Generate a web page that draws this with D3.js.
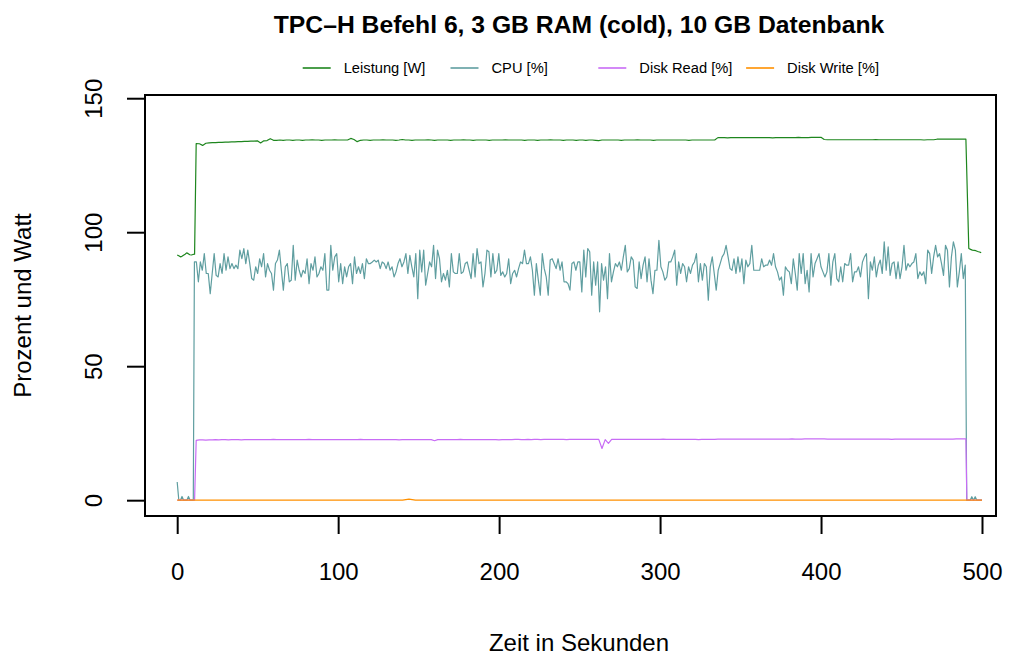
<!DOCTYPE html>
<html>
<head>
<meta charset="utf-8">
<script src="https://cdn.jsdelivr.net/npm/d3@7"></script>
<style>
  body { margin: 0; background: #fff; }
  svg { display: block; font-family: "Liberation Sans", Arial, Helvetica, sans-serif; }
</style>
</head>
<body>
<div class="chart"></div>
<script>
// series names + axis ticks
var seriesNames = ["Leistung [W]", "CPU [%]", "Disk Read [%]", "Disk Write [%]"];
var seriesColors = ["#1E861E", "#5F9EA0", "#C86CF5", "#FF9000"];
var xTicks = [0, 100, 200, 300, 400, 500];
var yTicks = [0, 50, 100, 150];

// Leistung [W] - idle before query, during query (2 s samples), idle after
var powerIdleStart = [91.5, 91.2, 90.8, 91.0, 91.4, 91.8, 92.3, 92.0, 91.6, 91.5, 91.7, 91.8];
var powerLoad = [
  133.1, 133.0, 132.4, 133.2, 133.3, 133.4, 133.4, 133.5, 133.5, 133.6,
  133.6, 133.7, 133.7, 133.8, 133.8, 133.9, 133.9, 134.0, 134.0, 134.1,
  133.3, 134.1, 134.2, 134.9, 134.3, 134.3, 134.4, 134.3, 134.4, 134.4,
  134.3, 134.4, 134.4, 134.3, 134.4, 134.4, 134.5, 134.4, 134.4, 134.3,
  134.4, 134.4, 134.4, 134.5, 134.4, 134.4, 134.4, 134.4, 135.0, 134.6,
  133.8, 134.3, 134.4, 134.4, 134.3, 134.4, 134.4, 134.4, 134.5, 134.4,
  134.4, 134.4, 134.3, 134.4, 134.6, 134.4, 134.4, 134.3, 134.4, 134.4,
  134.4, 134.4, 134.5, 134.4, 134.3, 134.4, 134.4, 134.4, 134.4, 134.3,
  134.4, 134.4, 134.4, 134.5, 134.4, 134.4, 134.3, 134.4, 134.4, 134.4,
  134.4, 134.3, 134.4, 134.4, 134.4, 134.4, 134.5, 134.4, 134.4, 134.4,
  134.4, 134.4, 134.3, 134.4, 134.4, 134.4, 134.3, 134.4, 134.4, 134.4,
  134.5, 134.4, 134.4, 134.4, 134.3, 134.4, 134.4, 134.4, 134.3, 134.4,
  134.4, 134.3, 134.4, 134.4, 134.3, 134.2, 134.4, 134.4, 134.4, 134.4,
  134.4, 134.4, 134.3, 134.4, 134.4, 134.4, 134.4, 134.5, 134.4, 134.4,
  134.4, 134.4, 134.3, 134.4, 134.4, 134.4, 134.4, 134.4, 134.4, 134.4,
  134.4, 134.4, 134.4, 134.3, 134.4, 134.4, 134.4, 134.4, 134.4, 134.4,
  134.4, 134.4, 135.3, 135.3, 135.3, 135.2, 135.3, 135.3, 135.3, 135.3,
  135.3, 135.3, 135.3, 135.3, 135.3, 135.3, 135.3, 135.3, 135.3, 135.2,
  135.3, 135.3, 135.3, 135.3, 135.3, 135.3, 135.3, 135.4, 135.3, 135.3,
  135.3, 135.4, 135.4, 135.4, 135.4, 134.6, 134.5, 134.5, 134.5, 134.5,
  134.5, 134.5, 134.5, 134.5, 134.5, 134.5, 134.5, 134.5, 134.5, 134.5,
  134.5, 134.6, 134.5, 134.5, 134.5, 134.5, 134.5, 134.5, 134.5, 134.5,
  134.5, 134.5, 134.5, 134.5, 134.5, 134.5, 134.4, 134.5, 134.5, 134.5,
  134.7, 134.7, 134.7, 134.7, 134.7, 134.7, 134.7, 134.7, 134.7, 134.7
];
var powerIdleEnd = [93.9, 93.6, 93.3, 93.2, 93.1, 92.8, 92.6, 92.4];

// CPU [%]
var cpuIdleStart = [6.8, 0, 0, 1.4, 0, 0, 0, 1.4, 0, 0, 0];
var cpuLoad = [
  88.9, 88.9, 81.5, 88.9, 85.8, 92.0, 84.6, 84.6, 77.1, 84.6,
  92.0, 83.9, 83.3, 88.3, 84.6, 92.0, 85.8, 90.8, 86.4, 88.3,
  86.4, 87.7, 86.4, 93.3, 90.1, 93.9, 88.3, 93.3, 88.3, 82.7,
  82.1, 87.1, 84.6, 90.1, 87.1, 92.0, 83.3, 88.3, 85.8, 84.6,
  78.4, 88.3, 89.6, 93.3, 85.8, 78.4, 87.1, 88.3, 81.5, 82.1,
  95.1, 82.1, 89.6, 85.8, 83.3, 85.8, 84.6, 90.1, 80.8, 88.3,
  85.8, 90.8, 83.3, 84.6, 87.1, 85.8, 92.0, 78.4, 78.4, 95.1,
  85.8, 90.8, 92.0, 81.5, 88.3, 80.8, 87.1, 83.3, 87.1, 88.3,
  80.8, 90.8, 84.6, 87.1, 84.6, 88.3, 82.7, 90.1, 88.3, 88.3,
  88.9, 89.6,
  88.9, 89.6, 86.4, 88.9, 88.3, 86.4, 88.9, 85.8, 87.1, 83.3,
  85.2, 88.3, 90.1, 87.1, 88.9, 92.0, 84.6, 91.4, 87.1, 83.3,
  92.0, 75.2, 93.3, 85.2, 93.3, 80.2, 84.6, 88.9, 87.1, 95.1,
  82.7, 93.3, 90.1, 81.5, 84.6, 82.1, 85.8, 79.6, 92.0, 85.2,
  84.6, 84.6, 92.0, 84.6, 85.2, 88.3, 88.9, 85.8, 82.7, 92.0,
  83.3, 93.9, 88.3, 88.9, 79.6, 84.6, 93.3, 92.7, 83.3, 92.0,
  84.6, 85.8, 92.0, 83.9, 85.2, 83.3, 84.6, 90.1, 80.8, 84.6,
  85.8, 83.3, 86.4, 88.9, 88.3, 93.3, 88.3, 88.3, 90.8, 85.8,
  76.5, 88.3, 82.1, 76.5, 92.0, 86.4, 83.3, 76.5, 89.6, 90.1,
  88.3, 86.4, 90.1, 85.8, 88.9, 81.5, 81.5, 80.8, 78.4, 88.3,
  88.9,
  85.8, 88.9, 88.9, 77.7, 93.3, 83.3, 93.9, 92.7, 76.5, 88.9,
  80.2, 88.9, 70.3, 88.3, 82.1, 87.1, 75.2, 92.0, 81.5, 85.2,
  88.3, 87.1, 88.9, 85.8, 90.8, 95.1, 85.2, 86.4, 90.8, 89.6,
  79.6, 79.0, 88.9, 82.7, 87.7, 90.8, 81.5, 90.1, 82.1, 77.1,
  85.8, 85.8, 97.0, 87.1, 85.2, 82.1, 83.3, 88.9, 88.9, 90.8,
  93.3, 80.2, 88.9, 84.6, 88.3, 87.1, 81.5, 87.1, 84.6, 87.7,
  88.9, 92.0, 81.5, 88.3, 82.1, 88.3, 87.1, 74.6, 87.1, 90.8,
  84.6, 78.4, 85.8, 88.3, 90.8, 92.0, 95.1, 90.8, 86.4, 85.8,
  90.1, 84.6, 90.8, 85.2, 90.1, 80.8, 89.6, 87.1, 88.3, 95.1,
  85.8, 85.8, 85.8, 85.8, 90.1, 87.1, 87.7, 87.7, 89.6, 87.7,
  92.0, 87.1, 85.2, 82.1,
  83.3, 76.5, 87.1, 85.8, 85.2, 80.8, 90.1, 84.6, 78.4, 92.0,
  84.6, 92.0, 80.8, 85.8, 77.7, 92.0, 83.3, 88.3, 90.1, 92.0,
  87.1, 85.2, 83.3, 85.2, 92.0, 80.2, 88.9, 92.0, 82.7, 81.5,
  87.1, 81.5, 88.3, 87.7, 87.7, 92.0, 81.5, 85.2, 85.2, 87.1,
  83.3, 88.9, 90.8, 92.0, 75.2, 88.9, 85.8, 90.8, 83.3, 87.7,
  89.6, 84.6, 96.4, 85.8, 94.5, 83.9, 88.3, 88.9, 82.7, 88.9,
  82.7, 87.1, 95.1, 85.8, 88.3, 87.1, 88.3, 88.9, 92.0, 82.7,
  85.2, 83.9, 85.2, 80.8, 93.3, 92.0, 84.6, 90.8, 95.1, 90.8,
  92.0, 88.3, 83.9, 95.1, 93.3, 79.6, 90.8, 96.4, 93.3, 79.6,
  85.2, 92.0, 82.7, 87.7
];
var cpuIdleEnd = [0, 0, 0, 1.3, 0, 1.3, 0, 0, 0, 0];

// Disk Read [%]
var readIdleStart = [0, 0];
var readLoad = [
  22.3, 22.5, 22.5, 22.4, 22.5, 22.5, 22.6, 22.5, 22.6, 22.6,
  22.5, 22.6, 22.6, 22.6, 22.5, 22.6, 22.6, 22.6, 22.6, 22.6,
  22.6, 22.6, 22.6, 22.6, 22.7, 22.6, 22.6, 22.6, 22.6, 22.6,
  22.6, 22.6, 22.6, 22.6, 22.6, 22.7, 22.6, 22.6, 22.6, 22.6,
  22.6, 22.6, 22.6, 22.6, 22.6, 22.6, 22.6, 22.6, 22.6, 22.6,
  22.6, 22.7, 22.6, 22.6, 22.6, 22.6, 22.6, 22.6, 22.6, 22.6,
  22.6, 22.6, 22.6, 22.5, 22.6, 22.6, 22.6, 22.6, 22.6, 22.6,
  22.6, 22.6, 22.6, 22.6, 22.2, 22.6, 22.6, 22.6, 22.6, 22.6,
  22.6, 22.6, 22.7, 22.6, 22.6, 22.6, 22.6, 22.6, 22.6, 22.6,
  22.6, 22.6, 22.6, 22.6, 22.5, 22.6, 22.6, 22.6, 22.6, 22.7,
  22.7, 22.6, 22.6, 22.7, 22.6, 22.7, 22.7, 22.6, 22.7, 22.7,
  22.7, 22.7, 22.7, 22.7, 22.7, 22.6, 22.7, 22.7, 22.7, 22.7,
  22.7, 22.7, 22.7, 22.7, 22.7, 22.7, 19.3, 22.6, 21.2, 22.7,
  22.7, 22.7, 22.7, 22.7, 22.7, 22.7, 22.7, 22.7, 22.7, 22.7,
  22.7, 22.7, 22.7, 22.7, 22.7, 22.8, 22.7, 22.7, 22.7, 22.7,
  22.7, 22.7, 22.7, 22.7, 22.7, 22.7, 22.6, 22.7, 22.7, 22.7,
  22.7, 22.7, 22.8, 22.8, 22.8, 22.8, 22.8, 22.8, 22.8, 22.8,
  22.8, 22.8, 22.8, 22.8, 22.8, 22.8, 22.8, 22.8, 22.8, 22.8,
  22.8, 22.8, 22.8, 22.8, 22.8, 22.9, 22.8, 22.8, 22.8, 22.9,
  22.9, 22.9, 22.9, 22.9, 22.9, 22.9, 22.8, 22.8, 22.8, 22.8,
  22.8, 22.8, 22.8, 22.8, 22.8, 22.8, 22.8, 22.8, 22.8, 22.8,
  22.8, 22.8, 22.8, 22.8, 22.8, 22.8, 22.7, 22.8, 22.8, 22.8,
  22.8, 22.8, 22.8, 22.8, 22.8, 22.8, 22.8, 22.8, 22.8, 22.8,
  22.8, 22.8, 22.8, 22.8, 22.8, 22.8, 22.9, 22.9, 22.9, 22.9
];
var readIdleEnd = [0, 0];

// Disk Write [%] (4 s samples, 0..500 s)
var diskWrite = [
  0, 0, 0, 0, 0, 0, 0, 0, 0, 0, 0, 0, 0, 0, 0, 0, 0, 0, 0, 0,
  0, 0, 0, 0, 0, 0, 0, 0, 0, 0, 0, 0, 0, 0, 0, 0, 0.4, 0, 0, 0,
  0, 0, 0, 0, 0, 0, 0, 0, 0, 0, 0, 0, 0, 0, 0, 0, 0, 0, 0, 0,
  0, 0, 0, 0, 0, 0, 0, 0, 0, 0, 0, 0, 0, 0, 0, 0, 0, 0, 0, 0,
  0, 0, 0, 0, 0, 0, 0, 0, 0, 0, 0, 0, 0, 0, 0, 0, 0, 0, 0, 0,
  0, 0, 0, 0, 0, 0, 0, 0, 0, 0, 0, 0, 0, 0, 0, 0, 0, 0, 0, 0,
  0, 0, 0, 0, 0, 0
];

// spread a list of samples evenly over [t0, t1] seconds
function seg(vals, t0, t1) {
  return vals.map(function (v, i) { return [t0 + i * (t1 - t0) / (vals.length - 1), v]; });
}

var series = [
  [].concat(seg(powerIdleStart, 0, 10.8), seg(powerLoad, 11.8, 490), seg(powerIdleEnd, 491.8, 499.5)),
  [].concat(seg(cpuIdleStart, 0, 10), seg(cpuLoad, 10.7, 489.6), seg(cpuIdleEnd, 490.5, 500)),
  [].concat(seg(readIdleStart, 0, 10.8), seg(readLoad, 11.8, 490), seg(readIdleEnd, 490.6, 500)),
  seg(diskWrite, 0, 500)
];

var width = 1012, height = 655;
var box = { left: 145, right: 996, top: 95, bottom: 516 };

var svg = d3.select(".chart").append("svg").attr("width", width).attr("height", height);

var x = d3.scaleLinear().domain([-20, 508.7]).range([box.left, box.right]);
var y = d3.scaleLinear().domain([-5.9, 151.2]).range([box.bottom, box.top]);

// data lines
var line = d3.line().x(function (d) { return x(d[0]); }).y(function (d) { return y(d[1]); });
svg.append("g")
  .selectAll("path")
  .data(series)
  .enter()
  .append("path")
  .attr("d", line)
  .attr("fill", "none")
  .attr("stroke", function (d, i) { return seriesColors[i]; })
  .attr("stroke-width", 1.2)
  .attr("stroke-linejoin", "round");

// frame
svg.append("rect")
  .attr("x", box.left).attr("y", box.top)
  .attr("width", box.right - box.left).attr("height", box.bottom - box.top)
  .attr("fill", "none").attr("stroke", "#000").attr("stroke-width", 2);

// x axis (ticks only, like R)
var xAxis = d3.axisBottom(x).tickValues(xTicks).tickSize(18).tickPadding(29);
var gx = svg.append("g").attr("transform", "translate(0," + box.bottom + ")").call(xAxis);
gx.select(".domain").remove();
gx.selectAll(".tick line").attr("stroke-width", 2);
gx.selectAll(".tick text").attr("font-size", 24).attr("font-family", null).attr("fill", "#000");

// y axis, labels turned parallel to axis
var yAxis = d3.axisLeft(y).tickValues(yTicks).tickSize(18).tickPadding(0);
var gy = svg.append("g").attr("transform", "translate(" + box.left + ",0)").call(yAxis);
gy.select(".domain").remove();
gy.selectAll(".tick line").attr("stroke-width", 2);
gy.selectAll(".tick text")
  .attr("font-size", 24).attr("font-family", null).attr("fill", "#000")
  .attr("x", null).attr("dy", null)
  .attr("text-anchor", "middle")
  .attr("transform", "translate(-43,0) rotate(-90)");

// titles
svg.append("text")
  .attr("x", 579).attr("y", 33)
  .attr("text-anchor", "middle")
  .attr("font-size", 24.7).attr("font-weight", "bold")
  .text("TPC\u2013H Befehl 6, 3 GB RAM (cold), 10 GB Datenbank");

svg.append("text")
  .attr("x", 579).attr("y", 651)
  .attr("text-anchor", "middle").attr("font-size", 24)
  .text("Zeit in Sekunden");

svg.append("text")
  .attr("transform", "translate(31," + ((box.top + box.bottom) / 2) + ") rotate(-90)")
  .attr("text-anchor", "middle").attr("font-size", 24)
  .text("Prozent und Watt");

// legend
var legend = svg.append("g").selectAll("g")
  .data(seriesNames)
  .enter()
  .append("g")
  .attr("transform", function (d, i) { return "translate(" + (302.7 + i * 147.8) + ",68)"; });
legend.append("line")
  .attr("x1", 0).attr("x2", 28)
  .attr("stroke", function (d, i) { return seriesColors[i]; })
  .attr("stroke-width", 1.6);
legend.append("text")
  .attr("x", 41).attr("y", 5)
  .attr("font-size", 14.7)
  .text(function (d) { return d; });
</script>
</body>
</html>
